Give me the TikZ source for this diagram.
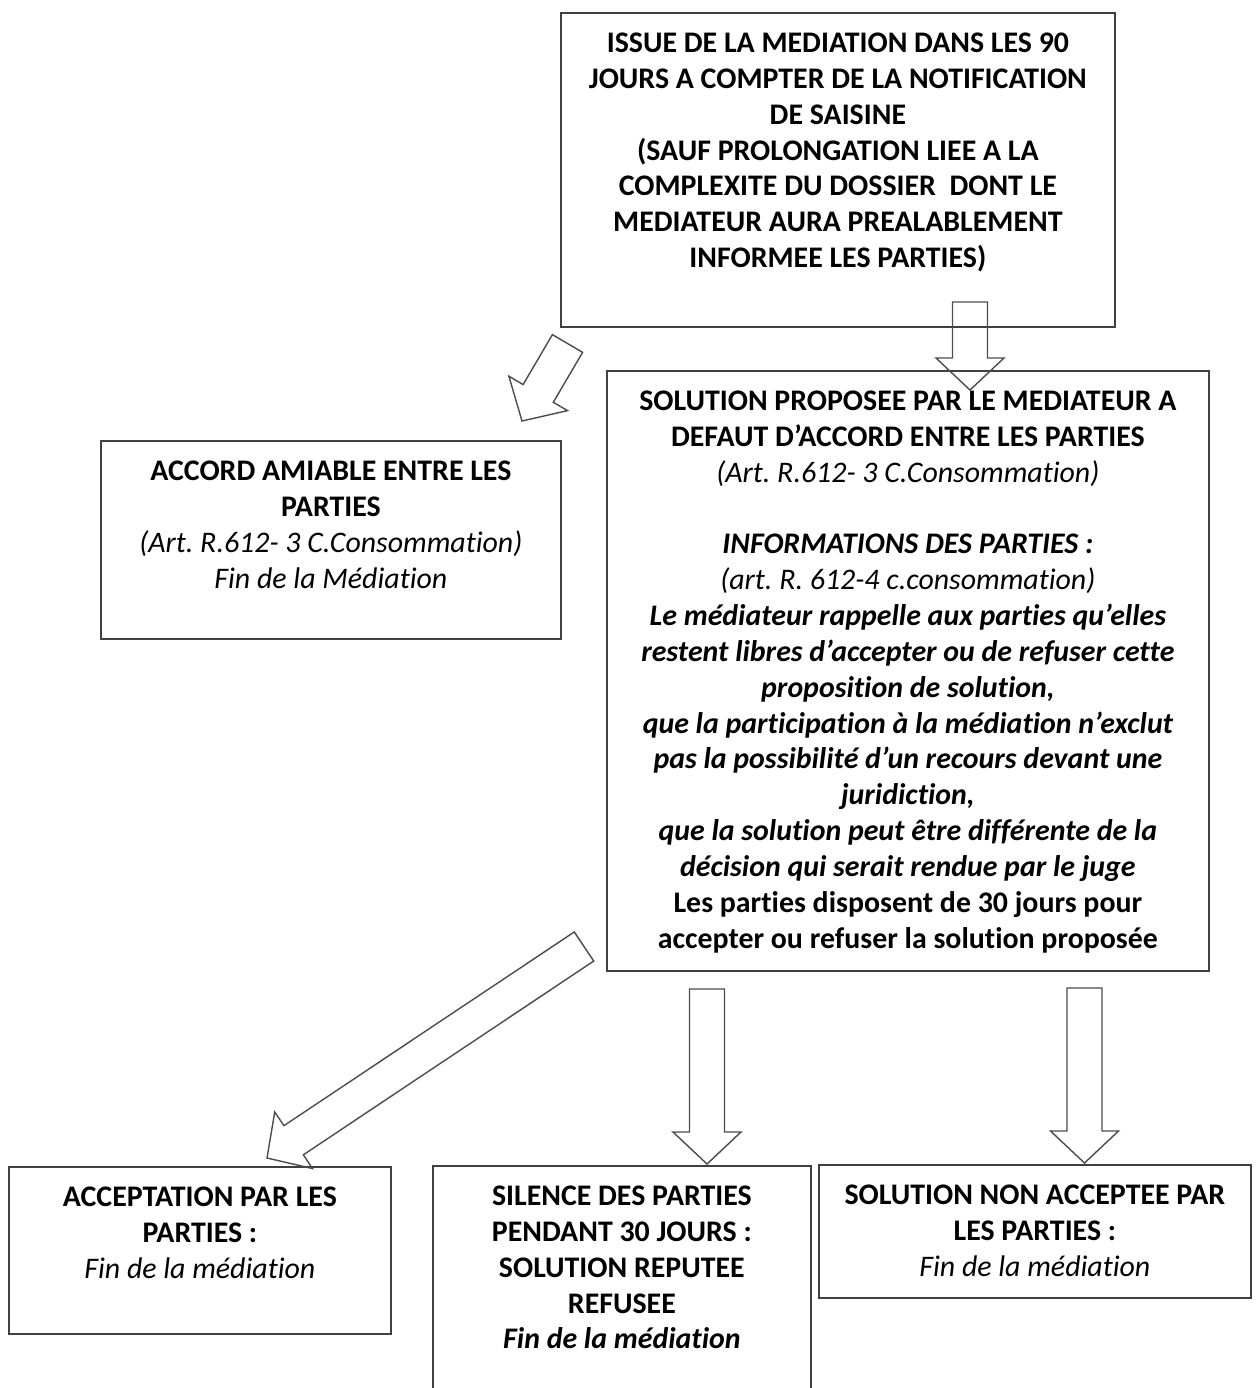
\documentclass[tikz,border=0pt]{standalone}
\usepackage{fontspec}
\setmainfont{Carlito}[Ligatures=NoCommon]
\frenchspacing
\usetikzlibrary{calc,positioning}

% hollow block arrow from #1 to #2
\newcommand{\blockarrow}[2]{%
	\coordinate (#2b) at ($(#2)!0.64cm!(#1)$);
	\draw[barrow] ($(#1)!0.35cm!90:(#2)$) -- ($(#2b)!0.35cm!90:(#2)$)
	-- ($(#2b)!0.68cm!90:(#2)$) -- (#2) -- ($(#2b)!0.68cm!-90:(#2)$)
	-- ($(#2b)!0.35cm!-90:(#2)$) -- ($(#1)!0.35cm!-90:(#2)$) -- cycle;}

\begin{document}
\begin{tikzpicture}[box/.style 2 args={draw=black!75, line width=1pt, anchor=north west,
		inner xsep=0.2cm, inner ysep=0.4cm, font=\fontsize{17pt}{20.4pt}\selectfont,
		execute at begin node={\begin{minipage}[t][\dimexpr#2-0.8cm\relax][t]{\dimexpr#1-0.4cm\relax}\centering},
		execute at end node={\end{minipage}}},
	barrow/.style={draw=black!70, line width=0.8pt}]
	\useasboundingbox (0,0) rectangle (25.16,-27.76);
	\node[box={11.08cm}{6.28cm}] (issue) at (11.2,-0.24) {\bfseries ISSUE DE LA MEDIATION DANS LES 90\\
		JOURS A COMPTER DE LA NOTIFICATION\\ DE SAISINE\\ (SAUF PROLONGATION LIEE A LA\\
		COMPLEXITE DU DOSSIER\ \ DONT LE\\ MEDIATEUR AURA PREALABLEMENT\\ INFORMEE LES PARTIES)};
	\node[box={12.04cm}{12cm}] (prop) at (12.12,-7.4) {{\bfseries SOLUTION PROPOSEE PAR LE MEDIATEUR A\\
		DEFAUT D’ACCORD ENTRE LES PARTIES}\\ {\itshape (Art. R.612- 3 C.Consommation)}\\[20.4pt]
		{\bfseries\itshape INFORMATIONS DES PARTIES :}\\ {\itshape (art. R. 612-4 c.consommation)}\\
		{\bfseries\itshape Le médiateur rappelle aux parties qu’elles\\ restent libres d’accepter ou de refuser cette\\
		proposition de solution,\\ que la participation à la médiation n’exclut\\
		pas la possibilité d’un recours devant une\\ juridiction,\\ que la solution peut être différente de la\\
		décision qui serait rendue par le juge}\\ {\bfseries Les parties disposent de 30 jours pour\\
		accepter ou refuser la solution proposée}};
	\node[box={9.2cm}{3.96cm}] (accord) at (2,-8.8) {{\bfseries ACCORD AMIABLE ENTRE LES\\ PARTIES}\\
		{\itshape (Art. R.612- 3 C.Consommation)\\ Fin de la Médiation}};
	\node[box={7.64cm}{3.34cm}] (accept) at (0.16,-23.32) {{\bfseries ACCEPTATION PAR LES\\ PARTIES :}\\
		{\itshape Fin de la médiation}};
	\node[box={7.56cm}{4.6cm}] (silence) at (8.64,-23.3) {{\bfseries SILENCE DES PARTIES\\ PENDANT 30 JOURS :\\
		SOLUTION REPUTEE\\ REFUSEE\\ \itshape Fin de la médiation}};
	\node[box={8.64cm}{2.66cm}] (refus) at (16.36,-23.28) {{\bfseries SOLUTION NON ACCEPTEE PAR\\ LES PARTIES :}\\
		{\itshape Fin de la médiation}};
	\coordinate (a1) at (19.4,-6.04);
	\coordinate (b1) at (19.4,-7.8);
	\coordinate (a2) at (11.35,-6.87);
	\coordinate (b2) at (10.44,-8.42);
	\coordinate (a3) at (11.68,-18.93);
	\coordinate (b3) at (5.34,-23.16);
	\coordinate (a4) at (14.14,-19.78);
	\coordinate (b4) at (14.14,-23.28);
	\coordinate (a5) at (21.69,-19.76);
	\coordinate (b5) at (21.69,-23.26);
	\blockarrow{a1}{b1}
	\blockarrow{a2}{b2}
	\blockarrow{a3}{b3}
	\blockarrow{a4}{b4}
	\blockarrow{a5}{b5}
\end{tikzpicture}
\end{document}
